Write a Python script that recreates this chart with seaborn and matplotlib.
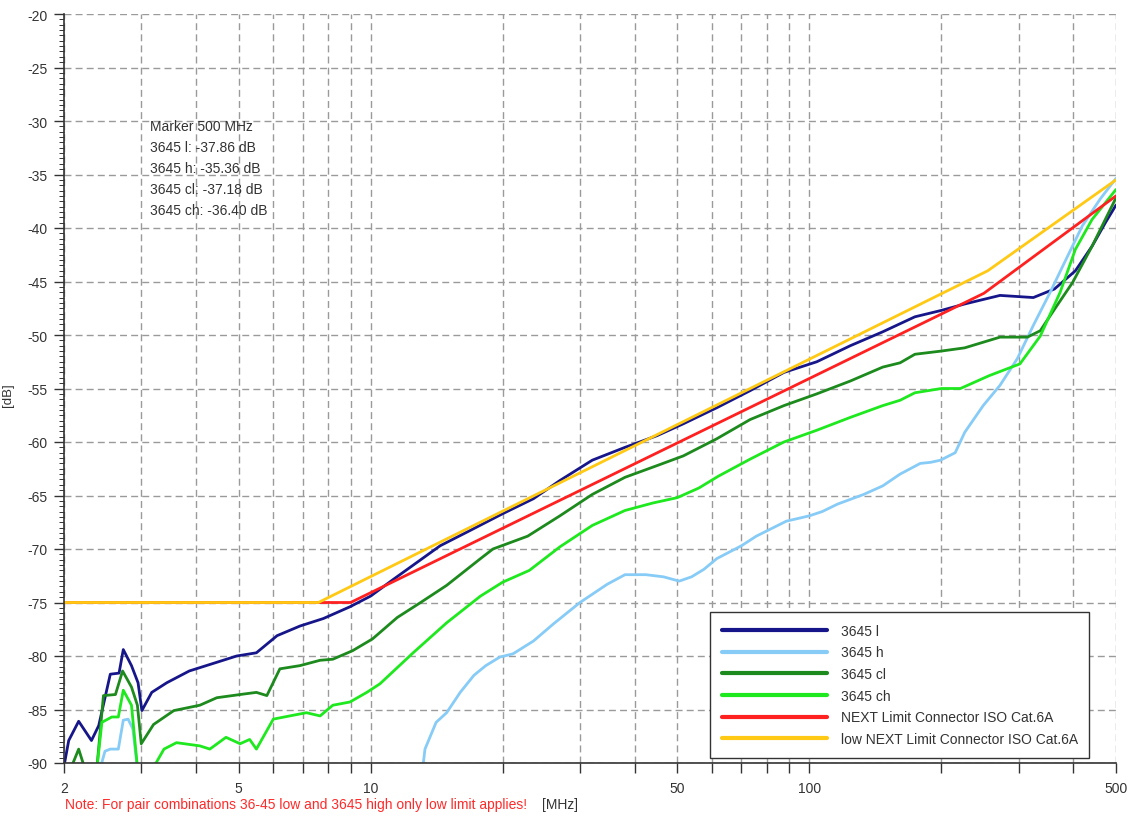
import pandas as pd
import matplotlib
matplotlib.use('Agg')
import matplotlib.pyplot as plt
from matplotlib.ticker import FixedLocator, FixedFormatter, MultipleLocator
import seaborn as sns

# values (frequency in MHz, level in dB)
f_l = [2.0, 2.05, 2.16, 2.31, 2.40, 2.55, 2.67, 2.73, 2.85, 2.95, 3.01, 3.17, 3.43, 3.86, 4.45,
       4.95, 5.49, 6.12, 6.9, 7.8, 8.97, 10.0, 11.3, 14.4, 16.8, 20.0, 23.5, 27.0, 32.0, 38.0,
       45.0, 51.6, 61.5, 73.3, 87.5, 104, 124, 147, 174, 200, 226, 272, 324, 362, 404, 441, 473, 500]
db_l = [-90.3, -87.9, -86.1, -87.9, -86.5, -81.7, -81.6, -79.4, -80.9, -82.5, -85.1, -83.4, -82.5,
        -81.4, -80.6, -80.0, -79.7, -78.1, -77.2, -76.5, -75.4, -74.4, -72.8, -69.7, -68.3, -66.7,
        -65.3, -63.6, -61.7, -60.5, -59.4, -58.3, -56.8, -55.2, -53.5, -52.5, -51.0, -49.7, -48.3,
        -47.7, -47.1, -46.3, -46.5, -45.7, -44.0, -41.7, -39.5, -37.86]

f_h = [2.40, 2.48, 2.55, 2.66, 2.73, 2.80, 2.87, 2.95, 5.0, 10.0, 13.1, 13.3, 14.1, 14.9, 16.0,
       17.2, 18.3, 19.7, 21.1, 23.5, 26.1, 30.0, 34.6, 38.0, 42.4, 46.5, 50.5, 53.9, 57.5, 61.5,
       70, 75.7, 88.6, 100, 107, 116, 133, 147, 161, 179, 189, 199, 215, 226, 249, 272, 298, 324,
       354, 385, 419, 460, 500]
db_h = [-91, -88.9, -88.7, -88.7, -86.0, -85.9, -86.8, -91, -95, -95, -91, -88.7, -86.2, -85.3,
        -83.4, -81.8, -80.9, -80.1, -79.8, -78.6, -77.0, -75.0, -73.3, -72.4, -72.4, -72.6, -73.0,
        -72.6, -71.9, -70.9, -69.7, -68.8, -67.4, -66.9, -66.5, -65.8, -64.9, -64.1, -63.0, -62.0,
        -61.9, -61.7, -61.0, -59.1, -56.6, -54.7, -52.2, -49.1, -46.0, -42.9, -39.8, -37.3, -35.36]

f_cl = [2.05, 2.16, 2.25, 2.37, 2.46, 2.62, 2.72, 2.85, 2.94, 3.0, 3.2, 3.56, 4.08, 4.46, 5.04,
        5.49, 5.8, 6.21, 6.9, 7.67, 8.2, 9.1, 10.1, 11.5, 13.0, 14.9, 17.8, 19.0, 22.8, 27.0,
        32.0, 38.0, 45.0, 51.6, 61.5, 73.3, 87.5, 104, 124, 147, 161, 174, 200, 226, 272, 314,
        336, 362, 398, 441, 500]
db_cl = [-91, -88.7, -91, -91, -83.7, -83.6, -81.4, -82.9, -84.6, -88.2, -86.4, -85.1, -84.6,
         -83.9, -83.6, -83.4, -83.7, -81.2, -80.9, -80.4, -80.3, -79.5, -78.4, -76.4, -75.0,
         -73.4, -70.9, -70.0, -68.8, -66.9, -64.9, -63.3, -62.2, -61.3, -59.7, -57.9, -56.6,
         -55.5, -54.3, -53.0, -52.6, -51.8, -51.5, -51.2, -50.2, -50.2, -49.6, -47.6, -45.1,
         -41.7, -37.18]

f_ch = [2.37, 2.44, 2.57, 2.66, 2.73, 2.85, 2.95, 3.05, 3.14, 3.38, 3.61, 4.08, 4.3, 4.68, 5.04,
        5.3, 5.49, 6.0, 6.54, 7.14, 7.67, 8.2, 8.97, 9.8, 10.5, 12.5, 14.9, 17.8, 20.0, 23.0,
        27.0, 32.0, 38.0, 44.0, 50.0, 56.0, 62.0, 73.3, 87.5, 104, 124, 147, 161, 174, 200, 221,
        257, 302, 336, 373, 404, 441, 500]
db_ch = [-91, -86.2, -85.7, -85.7, -83.2, -84.6, -91, -93, -91, -88.7, -88.1, -88.4, -88.7,
         -87.6, -88.2, -87.8, -88.7, -85.9, -85.6, -85.3, -85.6, -84.6, -84.3, -83.4, -82.6,
         -79.7, -76.9, -74.4, -73.1, -72.0, -69.8, -67.8, -66.4, -65.7, -65.2, -64.3, -63.2,
         -61.6, -60.0, -58.9, -57.7, -56.6, -56.1, -55.4, -55.0, -55.0, -53.8, -52.7, -50.1,
         -46.0, -42.0, -39.2, -36.40]

f_lim = [2, 9.0, 250, 500]
db_lim = [-75, -75, -46.1, -37.0]

f_low = [2, 7.6, 255, 500]
db_low = [-75, -75, -44.0, -35.5]

names = ['3645 l', '3645 h', '3645 cl', '3645 ch',
         'NEXT Limit Connector ISO Cat.6A', 'low NEXT Limit Connector ISO Cat.6A']
freqs = [f_l, f_h, f_cl, f_ch, f_lim, f_low]
levels = [db_l, db_h, db_cl, db_ch, db_lim, db_low]
colors = ['#16168a', '#87cbf7', '#1c8a1c', '#1ee81e', '#ff2020', '#ffc914']

x_grid = [2, 3, 4, 5, 6, 7, 8, 9, 10, 20, 30, 40, 50, 60, 70, 80, 90, 100, 200, 300, 400, 500]
x_labels = ['2', '', '', '5', '', '', '', '', '10', '', '', '', '50', '', '', '', '', '100',
            '', '', '', '500']

marker_lines = ['Marker 500 MHz', '3645 l: -37.86 dB', '3645 h: -35.36 dB',
                '3645 cl: -37.18 dB', '3645 ch: -36.40 dB']

sns.set_theme(style='ticks')
plt.rcParams['font.family'] = ['Liberation Sans', 'DejaVu Sans']
plt.rcParams['axes.unicode_minus'] = False

W, H = 1129, 820
fig = plt.figure(figsize=(W / 100, H / 100), dpi=100)
ax = fig.add_axes([64 / W, 1 - 764 / H, (1116 - 64) / W, (764 - 15) / H])
ax.set_xscale('log')

for name, f, db, col in zip(names, freqs, levels, colors):
    df = pd.DataFrame({'MHz': f, 'dB': db})
    sns.lineplot(data=df, x='MHz', y='dB', ax=ax, color=col, linewidth=2.0,
                 label=name, sort=False, estimator=None)

ax.set_xlim(2, 500)
ax.set_ylim(-90, -20)
ax.xaxis.set_major_locator(FixedLocator(x_grid))
ax.xaxis.set_major_formatter(FixedFormatter(x_labels))
ax.xaxis.set_minor_locator(FixedLocator([]))
ax.yaxis.set_major_locator(MultipleLocator(5))
ax.yaxis.set_minor_locator(MultipleLocator(0.5))
ax.set_xlabel('')
ax.set_ylabel('')

ax.grid(True, which='major', color='#9a9a9a', linestyle=(0, (5, 3)), linewidth=1)
ax.set_axisbelow(True)
for s in ['top', 'right']:
    ax.spines[s].set_visible(False)
for s in ['left', 'bottom']:
    ax.spines[s].set_color('#333333')
    ax.spines[s].set_linewidth(1.2)
ax.tick_params(axis='both', which='major', direction='out', length=7, width=1,
               color='#333333', labelsize=10, labelcolor='#333333')
ax.tick_params(axis='y', which='minor', direction='out', length=3.5, width=0.7, color='#333333')
ax.tick_params(axis='x', pad=6)
ax.tick_params(axis='y', pad=5)

leg = ax.legend(loc='upper left', bbox_to_anchor=(710 / W, 1 - 613 / H),
                bbox_transform=fig.transFigure, borderaxespad=0, frameon=True,
                fancybox=False, edgecolor='#333333', framealpha=1, fontsize=10,
                handlelength=7.6, handletextpad=0.95, labelspacing=0.55, borderpad=0.85)
leg.get_frame().set_linewidth(1)
for ln in leg.get_lines():
    ln.set_linewidth(3)
for t in leg.get_texts():
    t.set_color('#333333')

for i, line in enumerate(marker_lines):
    fig.text(150 / W, 1 - (127 + 21 * i) / H, line, fontsize=10, color='#333333', va='center')

fig.text(8 / W, 1 - 395 / H, '[dB]', rotation=90, fontsize=9.5, color='#333333',
         va='center', ha='center')
fig.text(560 / W, 1 - 805 / H, '[MHz]', fontsize=10, color='#333333', va='center', ha='center')
fig.text(65 / W, 1 - 805 / H,
         'Note: For pair combinations 36-45 low and 3645 high only low limit applies!',
         fontsize=10, color='#ff2a2a', va='center', ha='left')

fig.savefig('out.png', dpi=100)
